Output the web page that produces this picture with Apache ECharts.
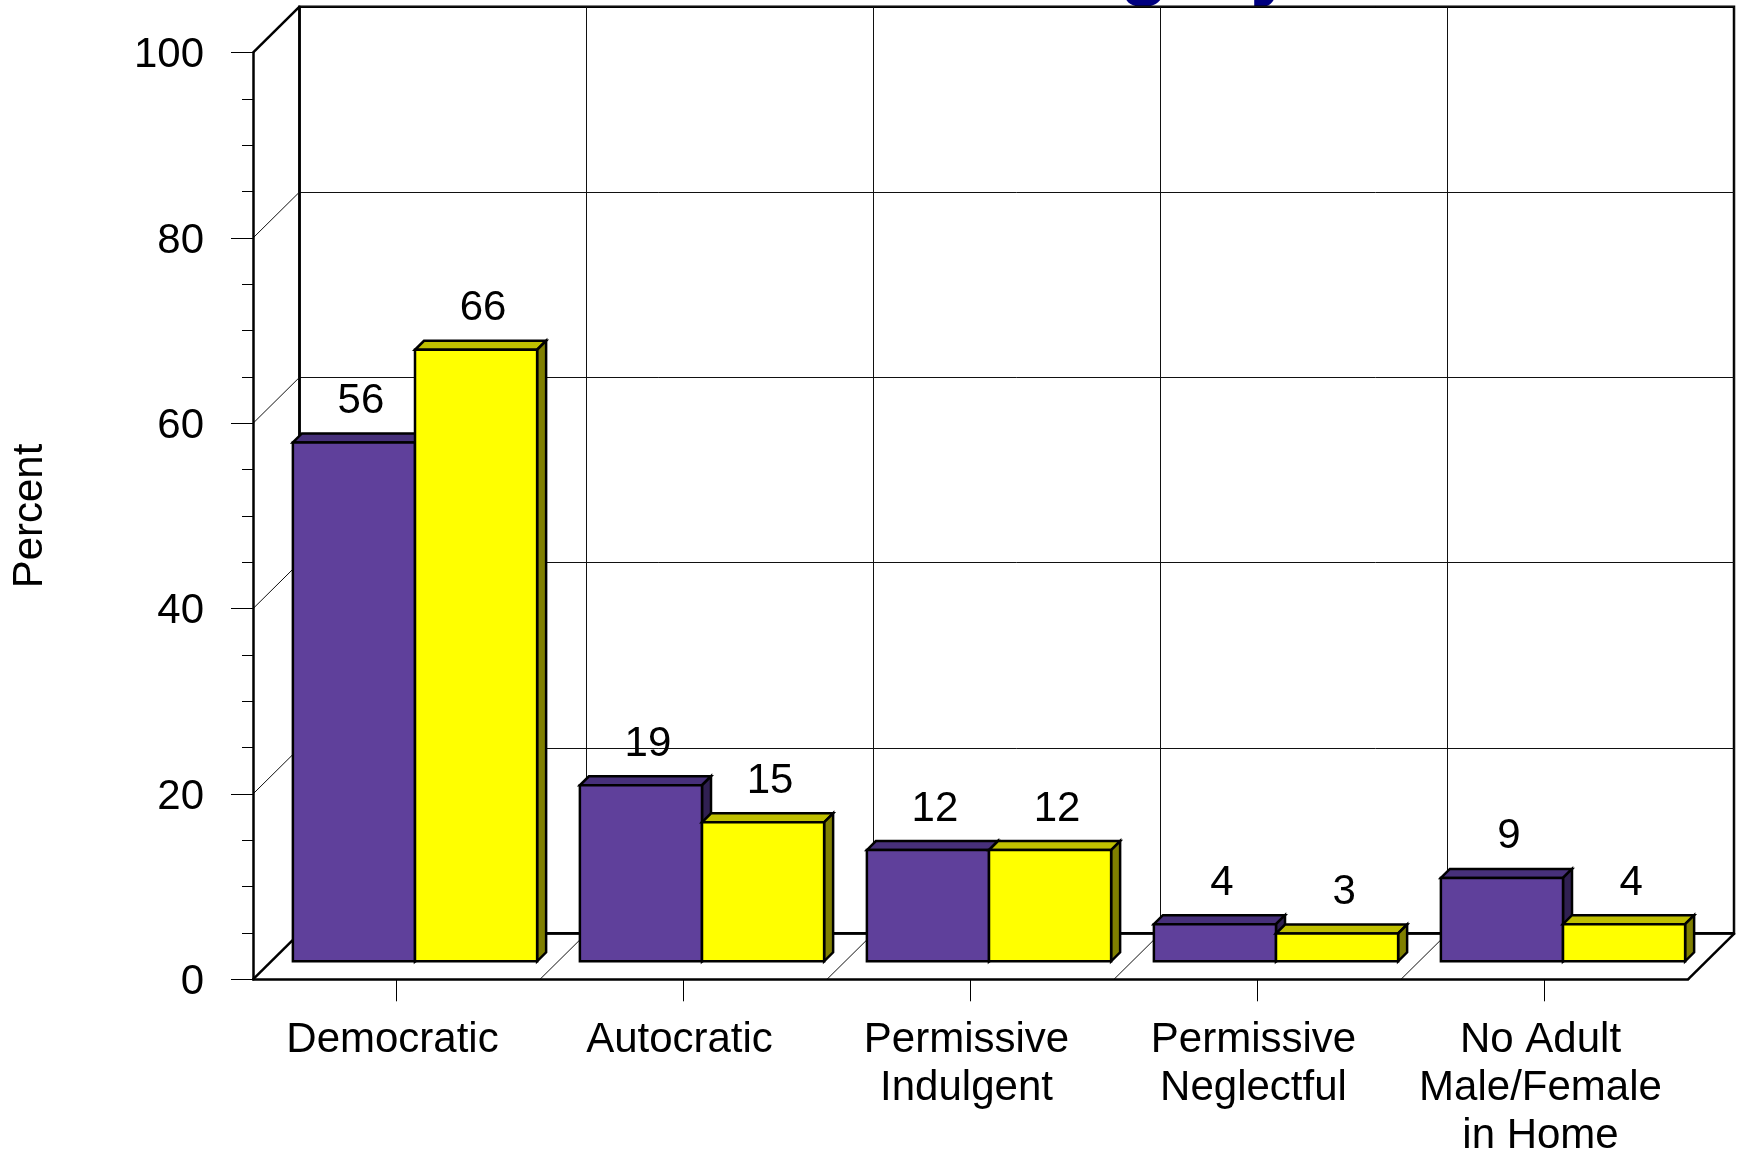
<!DOCTYPE html>
<html>
<head>
<meta charset="utf-8">
<style>html,body{margin:0;padding:0;background:#fff}#c{width:1740px;height:1153px}</style>
<script src="https://cdn.jsdelivr.net/npm/echarts@6/dist/echarts.min.js"></script>
</head>
<body>
<div id="c"></div>
<script>
const categories = ['Democratic', 'Autocratic', 'Permissive\nIndulgent', 'Permissive\nNeglectful', 'No Adult\nMale/Female\nin Home'];
const purpleValues = [56, 19, 12, 4, 9];
const yellowValues = [66, 15, 12, 3, 4];
const valueTicks = [0, 20, 40, 60, 80, 100];
const clippedTitle = 'Category';

const FONT = '"Liberation Sans", Arial, sans-serif';
const WALL_DX = 46.5, WALL_DY = -46;
const BAR_DX = 18.5, BAR_DY = -18;
const BAR_DEPTH = 9;
const BAR_FRAC = 0.4255;
const THIN = '#111';

const purpleStyle = { front: '#5F409B', top: '#47307A', side: '#302052' };
const yellowStyle = { front: '#FFFF00', top: '#BFBF00', side: '#808000' };

function barSeries(name, values, colors, sign) {
  return {
    type: 'custom', name, xAxisIndex: 0, yAxisIndex: 0, z: 5, clip: false, silent: true,
    data: values.map((v, i) => [i, v]),
    renderItem(params, api) {
      const v = api.value(1);
      const c = api.coord([api.value(0), 0]);
      const t = api.coord([api.value(0), v]);
      const w = api.size([1, 0])[0] * BAR_FRAC;
      const x0 = c[0] + BAR_DX + (sign < 0 ? -w : 0);
      const x1 = x0 + w;
      const y0 = c[1] + BAR_DY;
      const y1 = t[1] + BAR_DY;
      const d = BAR_DEPTH;
      const line = { stroke: '#000', lineWidth: 2.5, lineJoin: 'miter' };
      return {
        type: 'group',
        children: [
          { type: 'polygon', shape: { points: [[x0, y1], [x0 + d, y1 - d], [x1 + d, y1 - d], [x1, y1]] }, style: { fill: colors.top, ...line } },
          { type: 'polygon', shape: { points: [[x1, y1], [x1 + d, y1 - d], [x1 + d, y0 - d], [x1, y0]] }, style: { fill: colors.side, ...line } },
          { type: 'rect', shape: { x: x0, y: y1, width: w, height: y0 - y1 }, style: { fill: colors.front, ...line } },
          { type: 'text', z2: 10, style: { text: String(v), x: (x0 + x1) / 2 + 7, y: y1 - 41, fill: '#000', font: '42px ' + FONT, textAlign: 'center', textVerticalAlign: 'middle' } }
        ]
      };
    }
  };
}

const option = {
  animation: false,
  backgroundColor: '#fff',
  graphic: [{
    type: 'text', z: -1, silent: true,
    style: { text: clippedTitle, x: 944, y: 8, fill: '#000080', font: 'bold 81px ' + FONT, textAlign: 'left', textVerticalAlign: 'bottom' }
  }],
  grid: [
    { left: 253, right: 52, top: 52.7, bottom: 173.7, outerBoundsMode: 'none' },
    { left: 299.5, right: 6, top: 6.7, bottom: 219.7, outerBoundsMode: 'none', show: true, borderColor: '#000', borderWidth: 2.5, backgroundColor: 'transparent' }
  ],
  xAxis: [
    {
      type: 'category', gridIndex: 0, data: categories, z: 3,
      axisLine: { show: true, lineStyle: { color: '#000', width: 2.5 } },
      axisTick: { show: true, alignWithLabel: true, length: 22, lineStyle: { color: '#000', width: 1 } },
      axisLabel: { show: true, interval: 0, margin: 37, color: '#000', fontFamily: FONT, fontSize: 42, lineHeight: 48, padding: [0, 8, 0, 0], hideOverlap: false },
      splitLine: { show: false }
    },
    {
      type: 'category', gridIndex: 1, data: categories, z: 1,
      axisLine: { show: true, lineStyle: { color: '#000', width: 2.5 } },
      axisTick: { show: false }, axisLabel: { show: false },
      splitLine: { show: true, interval: 0, lineStyle: { color: THIN, width: 1 } }
    }
  ],
  yAxis: [
    {
      type: 'value', gridIndex: 0, min: 0, max: 100, interval: 20, z: 3,
      name: 'Percent', nameLocation: 'middle', nameRotate: 90, nameGap: 202,
      nameTextStyle: { color: '#000', fontFamily: FONT, fontSize: 42 },
      axisLine: { show: true, lineStyle: { color: '#000', width: 2.5 } },
      axisTick: { show: true, length: 22, lineStyle: { color: '#000', width: 1 } },
      minorTick: { show: true, splitNumber: 4, length: 11, lineStyle: { color: '#000', width: 1 } },
      axisLabel: {
        show: true, margin: 49, color: '#000', fontFamily: FONT, fontSize: 42,
        formatter: '{t|{value}}',
        rich: { t: { fontFamily: FONT, fontSize: 42, color: '#000', lineHeight: 48, padding: [6, 0, 0, 0] } }
      },
      splitLine: { show: false }
    },
    {
      type: 'value', gridIndex: 1, min: 0, max: 100, interval: 20, z: 1,
      axisLine: { show: true, lineStyle: { color: '#000', width: 2.5 } },
      axisTick: { show: false }, axisLabel: { show: false },
      splitLine: { show: true, lineStyle: { color: THIN, width: 1 } }
    }
  ],
  series: [
    {
      type: 'custom', name: 'wallDepth', xAxisIndex: 0, yAxisIndex: 0, z: 2, clip: false, silent: true,
      data: valueTicks.map(v => [0, v]),
      renderItem(params, api) {
        const v = api.value(1);
        const p = api.coord([0, v]);
        const x = p[0] - api.size([1, 0])[0] / 2;
        const heavy = v === valueTicks[0] || v === valueTicks[valueTicks.length - 1];
        return { type: 'line', shape: { x1: x, y1: p[1], x2: x + WALL_DX, y2: p[1] + WALL_DY }, style: { stroke: heavy ? '#000' : THIN, lineWidth: heavy ? 2.5 : 1 } };
      }
    },
    {
      type: 'custom', name: 'floorDepth', xAxisIndex: 0, yAxisIndex: 0, z: 2, clip: false, silent: true,
      data: categories.map((c, i) => [i, 0]),
      renderItem(params, api) {
        const i = api.value(0);
        const p = api.coord([i, 0]);
        const x = p[0] + api.size([1, 0])[0] / 2;
        const heavy = i === categories.length - 1;
        return { type: 'line', shape: { x1: x, y1: p[1], x2: x + WALL_DX, y2: p[1] + WALL_DY }, style: { stroke: heavy ? '#000' : THIN, lineWidth: heavy ? 2.5 : 1 } };
      }
    },
    barSeries('purple', purpleValues, purpleStyle, -1),
    barSeries('yellow', yellowValues, yellowStyle, 1)
  ]
};

const chart = echarts.init(document.getElementById('c'), null, { renderer: 'canvas', width: 1740, height: 1153 });
chart.setOption(option);
</script>
</body>
</html>
